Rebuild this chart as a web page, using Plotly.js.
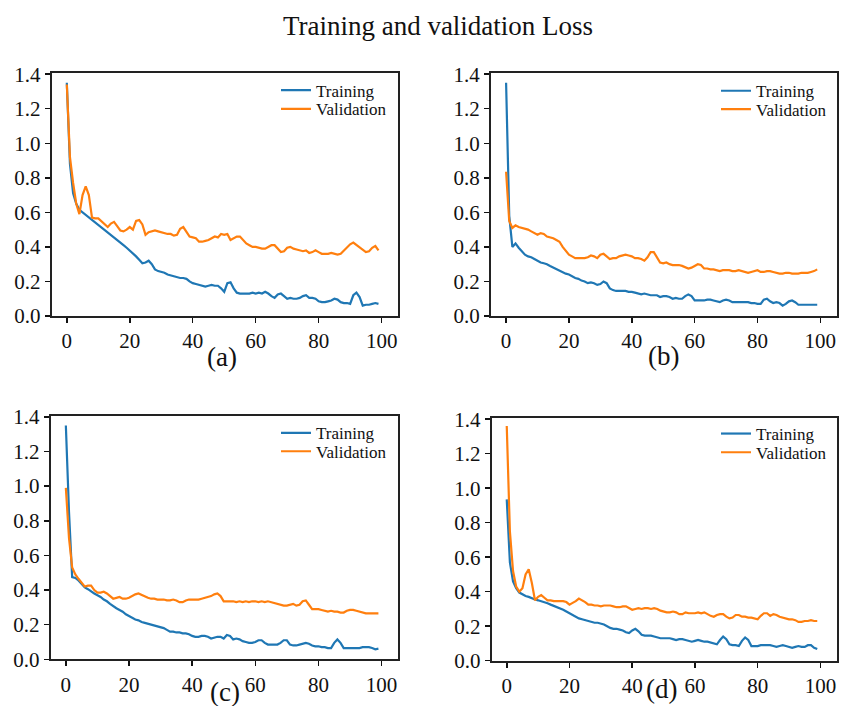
<!DOCTYPE html>
<html>
<head>
<meta charset="utf-8">
<script src="https://cdn.plot.ly/plotly-3.0.1.min.js"></script>
<style>html,body{margin:0;padding:0;background:#fff;}#chart{width:841px;height:706px;}</style>
</head>
<body>
<div id="chart"></div>
<script>
// Epoch index (0-based, as in a Keras history plot)
const epochs = Array.from({length: 100}, (_, i) => i);

const panelLabels = ["(a)", "(b)", "(c)", "(d)"];
const seriesNames = ["Training", "Validation"];
const yTickVals = [0, 0.2, 0.4, 0.6, 0.8, 1.0, 1.2, 1.4];
const xTickVals = [0, 20, 40, 60, 80, 100];

const trainA = [1.35,0.88,0.71,0.65,0.615,0.60,0.585,0.57,0.555,0.54,
 0.53,0.515,0.50,0.485,0.47,0.455,0.44,0.425,0.41,0.395,
 0.38,0.36,0.345,0.325,0.305,0.31,0.32,0.30,0.27,0.26,
 0.255,0.25,0.24,0.235,0.23,0.225,0.22,0.22,0.215,0.20,
 0.19,0.185,0.18,0.175,0.17,0.175,0.18,0.175,0.175,0.16,
 0.14,0.19,0.195,0.16,0.135,0.13,0.13,0.13,0.13,0.135,
 0.13,0.135,0.13,0.14,0.13,0.115,0.105,0.125,0.13,0.115,
 0.10,0.105,0.10,0.10,0.105,0.115,0.12,0.105,0.105,0.10,
 0.085,0.08,0.08,0.085,0.09,0.10,0.095,0.08,0.075,0.075,
 0.07,0.12,0.135,0.11,0.06,0.065,0.065,0.07,0.075,0.07];
const valA = [1.34,0.92,0.77,0.65,0.59,0.70,0.75,0.70,0.57,0.565,
 0.565,0.55,0.53,0.515,0.535,0.545,0.52,0.495,0.49,0.50,
 0.515,0.50,0.55,0.555,0.53,0.47,0.485,0.49,0.495,0.49,
 0.485,0.48,0.475,0.475,0.465,0.47,0.505,0.515,0.49,0.46,
 0.455,0.45,0.43,0.43,0.435,0.44,0.45,0.46,0.455,0.475,
 0.47,0.475,0.44,0.45,0.46,0.46,0.44,0.42,0.41,0.40,
 0.40,0.395,0.39,0.39,0.40,0.41,0.41,0.39,0.37,0.375,
 0.395,0.40,0.39,0.385,0.38,0.375,0.38,0.365,0.37,0.38,
 0.37,0.36,0.36,0.36,0.365,0.36,0.355,0.36,0.38,0.395,
 0.415,0.425,0.41,0.395,0.38,0.37,0.375,0.395,0.405,0.38];

const trainB = [1.35,0.58,0.40,0.42,0.395,0.375,0.355,0.345,0.34,0.33,
 0.32,0.31,0.305,0.30,0.29,0.28,0.275,0.265,0.255,0.245,
 0.24,0.23,0.22,0.215,0.205,0.20,0.19,0.195,0.19,0.18,
 0.185,0.20,0.19,0.16,0.15,0.145,0.145,0.145,0.145,0.14,
 0.14,0.135,0.13,0.125,0.13,0.125,0.12,0.12,0.12,0.11,
 0.115,0.115,0.11,0.10,0.105,0.10,0.10,0.115,0.125,0.115,
 0.09,0.09,0.09,0.09,0.095,0.095,0.09,0.085,0.08,0.09,
 0.095,0.09,0.08,0.08,0.08,0.08,0.08,0.08,0.075,0.075,
 0.07,0.07,0.095,0.10,0.085,0.075,0.08,0.075,0.06,0.07,
 0.085,0.09,0.08,0.065,0.065,0.065,0.065,0.065,0.065,0.065];
const valB = [0.835,0.55,0.51,0.525,0.515,0.51,0.505,0.50,0.49,0.48,
 0.47,0.48,0.475,0.46,0.455,0.45,0.44,0.43,0.40,0.375,
 0.355,0.345,0.335,0.335,0.335,0.335,0.34,0.35,0.345,0.335,
 0.355,0.36,0.345,0.33,0.335,0.335,0.345,0.35,0.355,0.35,
 0.345,0.335,0.335,0.33,0.32,0.34,0.37,0.37,0.34,0.31,
 0.305,0.31,0.30,0.295,0.295,0.295,0.29,0.28,0.275,0.28,
 0.29,0.30,0.295,0.275,0.275,0.27,0.27,0.265,0.26,0.265,
 0.265,0.265,0.26,0.26,0.265,0.26,0.255,0.25,0.255,0.26,
 0.265,0.255,0.255,0.26,0.26,0.255,0.25,0.245,0.245,0.25,
 0.25,0.245,0.245,0.245,0.25,0.25,0.25,0.255,0.26,0.27];

const trainC = [1.35,0.85,0.475,0.47,0.455,0.435,0.415,0.405,0.39,0.38,
 0.37,0.36,0.345,0.335,0.32,0.305,0.295,0.285,0.275,0.26,
 0.25,0.24,0.23,0.225,0.215,0.21,0.205,0.20,0.195,0.19,
 0.185,0.18,0.17,0.16,0.16,0.155,0.155,0.15,0.15,0.145,
 0.135,0.13,0.13,0.135,0.135,0.13,0.12,0.125,0.13,0.13,
 0.12,0.14,0.135,0.115,0.12,0.115,0.105,0.10,0.095,0.095,
 0.10,0.11,0.11,0.095,0.085,0.085,0.085,0.085,0.095,0.11,
 0.11,0.085,0.08,0.08,0.085,0.09,0.095,0.09,0.08,0.075,
 0.075,0.07,0.07,0.065,0.065,0.095,0.115,0.095,0.065,0.065,
 0.065,0.065,0.065,0.065,0.07,0.07,0.07,0.065,0.058,0.062];
const valC = [0.99,0.70,0.53,0.49,0.465,0.44,0.42,0.425,0.425,0.40,
 0.385,0.385,0.39,0.38,0.365,0.35,0.355,0.36,0.35,0.35,
 0.355,0.365,0.375,0.38,0.37,0.36,0.355,0.35,0.35,0.345,
 0.345,0.345,0.34,0.34,0.345,0.34,0.33,0.33,0.34,0.345,
 0.345,0.345,0.345,0.35,0.355,0.36,0.365,0.375,0.38,0.365,
 0.335,0.335,0.335,0.335,0.33,0.335,0.33,0.335,0.33,0.335,
 0.335,0.33,0.335,0.33,0.335,0.33,0.325,0.32,0.315,0.31,
 0.31,0.315,0.32,0.31,0.315,0.335,0.34,0.315,0.29,0.29,
 0.29,0.285,0.28,0.275,0.28,0.275,0.275,0.27,0.27,0.28,
 0.285,0.285,0.28,0.275,0.27,0.265,0.265,0.265,0.265,0.265];

const trainD = [0.935,0.57,0.46,0.42,0.395,0.385,0.375,0.37,0.36,0.355,
 0.35,0.345,0.34,0.333,0.325,0.318,0.31,0.303,0.295,0.285,
 0.275,0.265,0.255,0.245,0.24,0.235,0.23,0.225,0.22,0.22,
 0.215,0.21,0.20,0.19,0.185,0.185,0.18,0.175,0.165,0.16,
 0.175,0.185,0.17,0.15,0.145,0.145,0.145,0.14,0.135,0.13,
 0.13,0.13,0.13,0.125,0.12,0.125,0.125,0.12,0.115,0.11,
 0.115,0.12,0.115,0.11,0.11,0.105,0.10,0.095,0.12,0.14,
 0.125,0.095,0.09,0.09,0.085,0.115,0.135,0.12,0.085,0.085,
 0.085,0.09,0.09,0.09,0.09,0.085,0.08,0.085,0.09,0.085,
 0.08,0.075,0.08,0.085,0.08,0.08,0.09,0.09,0.075,0.068];
const valD = [1.36,0.75,0.52,0.43,0.40,0.42,0.50,0.53,0.45,0.35,
 0.37,0.38,0.365,0.35,0.35,0.345,0.345,0.345,0.345,0.34,
 0.325,0.335,0.345,0.36,0.35,0.34,0.325,0.325,0.32,0.32,
 0.315,0.32,0.32,0.32,0.315,0.31,0.31,0.315,0.315,0.305,
 0.295,0.30,0.305,0.30,0.305,0.305,0.30,0.305,0.30,0.29,
 0.285,0.28,0.28,0.285,0.28,0.27,0.27,0.28,0.275,0.275,
 0.275,0.28,0.275,0.28,0.27,0.26,0.255,0.265,0.27,0.27,
 0.255,0.245,0.25,0.265,0.265,0.255,0.255,0.25,0.25,0.245,
 0.24,0.26,0.275,0.275,0.26,0.27,0.265,0.255,0.25,0.245,
 0.24,0.24,0.235,0.225,0.225,0.23,0.23,0.235,0.23,0.23];

const trainSets = [trainA, trainB, trainC, trainD];
const valSets = [valA, valB, valC, valD];

const W = 841, H = 706;
const BLUE = '#1f77b4', ORANGE = '#ff7f0e';
const SERIF = 'Liberation Serif, Times New Roman, serif';

// plot-area boxes in pixels [left, right, top, bottom]
const boxes = [
  [51.7, 398, 73.3, 316],
  [491, 836.7, 73.3, 316],
  [50.7, 398, 416, 659.3],
  [491.7, 836.7, 418.3, 660.7]
];
// legend item centres (px): [left of legend, Training centre y, Validation centre y]
const legendPos = [[276, 90.5, 109.3], [716, 91.2, 109.6], [276, 433.3, 451.7], [716, 434, 452.7]];
// panel-label centres (px)
const labelPos = [[222, 357], [663, 356], [225, 692], [661, 689]];

const traces = [];
const layout = {
  width: W, height: H,
  margin: {l: 0, r: 0, t: 0, b: 0},
  paper_bgcolor: '#fff', plot_bgcolor: '#fff',
  font: {family: SERIF, color: '#111'},
  title: {text: 'Training and validation Loss', x: 438 / W, xanchor: 'center',
          y: 1 - 26 / H, yanchor: 'middle', xref: 'paper', yref: 'paper',
          font: {family: SERIF, size: 27, color: '#111'}},
  annotations: [],
  showlegend: true
};

const LEG_OFFSET = 18; // distance from legend top to first item centre
let legIdx = 0;
function legendKey() { legIdx++; return legIdx === 1 ? 'legend' : 'legend' + legIdx; }

for (let p = 0; p < 4; p++) {
  const sfx = p === 0 ? '' : String(p + 1);
  const lt = legendKey(), lv = legendKey();
  traces.push({x: epochs, y: trainSets[p], type: 'scatter', mode: 'lines',
    name: seriesNames[0], line: {color: BLUE, width: 2.2}, xaxis: 'x' + sfx, yaxis: 'y' + sfx, legend: lt});
  traces.push({x: epochs, y: valSets[p], type: 'scatter', mode: 'lines',
    name: seriesNames[1], line: {color: ORANGE, width: 2.2}, xaxis: 'x' + sfx, yaxis: 'y' + sfx, legend: lv});
  const b = boxes[p];
  const tickFont = {family: SERIF, size: 21, color: '#111'};
  layout['xaxis' + sfx] = {
    domain: [b[0] / W, b[1] / W], anchor: 'y' + sfx, range: [-4.8, 105.2],
    tickvals: xTickVals, ticks: 'outside', ticklen: 5, tickwidth: 1.5, tickcolor: '#111',
    showline: true, linecolor: '#222', linewidth: 2, mirror: true,
    showgrid: false, zeroline: false, tickfont: tickFont
  };
  layout['yaxis' + sfx] = {
    domain: [1 - b[3] / H, 1 - b[2] / H], anchor: 'x' + sfx, range: [0, 1.405],
    tickvals: yTickVals, tickformat: '.1f', ticks: 'outside', ticklen: 5, tickwidth: 1.5, tickcolor: '#111',
    showline: true, linecolor: '#222', linewidth: 2, mirror: true,
    showgrid: false, zeroline: false, tickfont: tickFont
  };
  const lp = legendPos[p];
  [[lt, lp[1]], [lv, lp[2]]].forEach(([key, cy]) => {
    layout[key] = {
      x: lp[0] / W, y: 1 - (cy - LEG_OFFSET) / H, xanchor: 'left', yanchor: 'top',
      bgcolor: 'rgba(0,0,0,0)', borderwidth: 0, font: {family: SERIF, size: 17, color: '#111'},
      itemwidth: 30
    };
  });
  layout.annotations.push({text: panelLabels[p], xref: 'paper', yref: 'paper',
    x: labelPos[p][0] / W, y: 1 - labelPos[p][1] / H, xanchor: 'center', yanchor: 'middle',
    showarrow: false, font: {family: SERIF, size: 27, color: '#111'}});
}

Plotly.newPlot('chart', traces, layout, {displayModeBar: false, staticPlot: true});
</script>
</body>
</html>
